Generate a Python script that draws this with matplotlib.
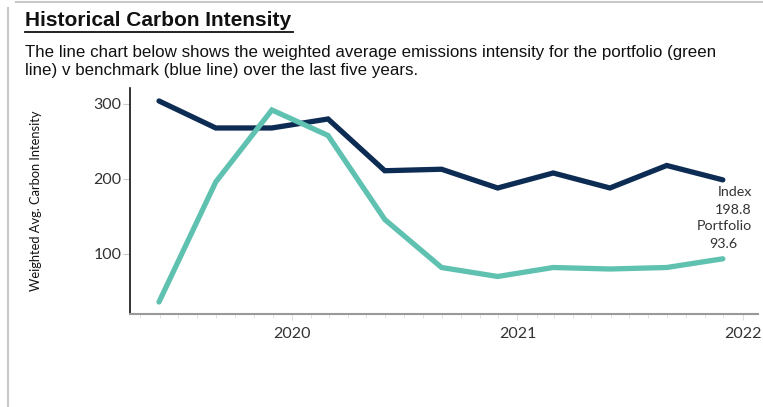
import numpy as np
import pandas as pd
import matplotlib
matplotlib.use("Agg")
import matplotlib.pyplot as plt
import matplotlib.dates as mdates
from matplotlib.lines import Line2D

# Datos (trimestrales, fin de mes)
fechas = pd.to_datetime(["2019-05-31", "2019-08-31", "2019-11-30", "2020-02-29",
                         "2020-05-31", "2020-08-31", "2020-11-30", "2021-02-28",
                         "2021-05-31", "2021-08-31", "2021-11-30"])
indice = [304, 268, 268, 280, 211, 213, 188, 208, 188, 218, 198.8]
cartera = [36, 196, 292, 258, 146, 82, 70, 82, 80, 82, 93.6]

color_indice = "#0D2C54"
color_cartera = "#5FC1B0"

fig = plt.figure(figsize=(7.63, 4.07), dpi=100)

# Marco del panel (izquierda y arriba)
fig.add_artist(Line2D([8 / 763, 8 / 763], [0, 1 - 8 / 407], color="#c8c8c8", lw=1.5))
fig.add_artist(Line2D([16 / 763, 1], [1 - 1.5 / 407, 1 - 1.5 / 407], color="#c8c8c8", lw=1.5))

# Titulo y subtitulo
fig.text(25 / 763, 1 - 21 / 407, "Historical Carbon Intensity", family="Liberation Sans",
         fontsize=15, fontweight="bold", color="#111111", va="center", ha="left")
fig.add_artist(Line2D([25 / 763, 293 / 763], [1 - 31.5 / 407, 1 - 31.5 / 407], color="#111111", lw=1.3))
fig.text(25 / 763, 1 - 52 / 407, "The line chart below shows the weighted average emissions intensity for the portfolio (green",
         family="Liberation Sans", fontsize=12.2, color="#111111", va="center", ha="left")
fig.text(25 / 763, 1 - 70 / 407, "line) v benchmark (blue line) over the last five years.",
         family="Liberation Sans", fontsize=12.2, color="#111111", va="center", ha="left")

ax = fig.add_axes([130 / 763, 1 - 314 / 407, 628 / 763, (314 - 87.7) / 407])

ax.plot(fechas, indice, color=color_indice, lw=3.8, solid_capstyle="round", solid_joinstyle="miter")
ax.plot(fechas, cartera, color=color_cartera, lw=3.8, solid_capstyle="round", solid_joinstyle="miter")

ax.set_xlim(pd.Timestamp("2019-04-14"), pd.Timestamp("2022-01-26"))
ax.set_ylim(20, 321.7)
ax.set_yticks([100, 200, 300])
ax.xaxis.set_major_locator(mdates.YearLocator())
ax.xaxis.set_major_formatter(mdates.DateFormatter("%Y"))
ax.xaxis.set_minor_locator(mdates.MonthLocator())

for lado in ["top", "right"]:
    ax.spines[lado].set_visible(False)
ax.spines["left"].set_color("#111111")
ax.spines["left"].set_linewidth(1.2)
ax.spines["bottom"].set_color("#999999")
ax.spines["bottom"].set_linewidth(1.5)

ax.tick_params(axis="y", length=5, color="#cccccc", labelsize=11.5, labelcolor="#333333", pad=1)
ax.tick_params(axis="x", which="major", length=4, color="#dddddd", labelsize=11.5, labelcolor="#333333", pad=5)
ax.tick_params(axis="x", which="minor", length=3, color="#dddddd")
for lab in ax.get_xticklabels() + ax.get_yticklabels():
    lab.set_family("Lato")

ax.set_ylabel("Weighted Avg. Carbon Intensity", family="Lato", fontsize=9.3, color="#111111", labelpad=42)
ax.yaxis.set_label_coords(-(130 - 42) / 628, 0.5)

# Etiquetas finales
estilo = dict(textcoords="offset points", va="center", family="Lato", fontsize=10.3, color="#333333")
ax.annotate("Index", (fechas[-1], indice[-1]), xytext=(21, -9), ha="right", **estilo)
ax.annotate(f"{indice[-1]:.1f}", (fechas[-1], indice[-1]), xytext=(21, -21.5), ha="right", **estilo)
ax.annotate("Portfolio", (fechas[-1], indice[-1]), xytext=(21, -33.5), ha="right", **estilo)
ax.annotate(f"{cartera[-1]:.1f}", (fechas[-1], cartera[-1]), xytext=(0, 11), ha="center", **estilo)

fig.savefig("out.png", dpi=100)
